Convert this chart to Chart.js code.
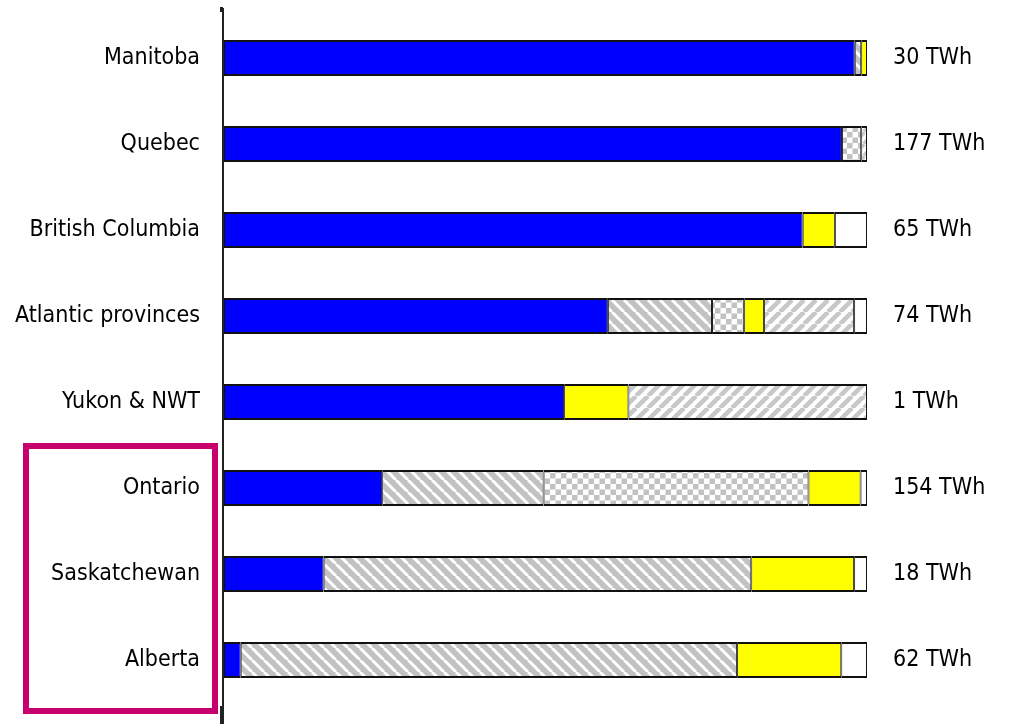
<!DOCTYPE html>
<html>
<head>
<meta charset="utf-8">
<script src="https://cdn.jsdelivr.net/npm/chart.js@4/dist/chart.umd.min.js"></script>
<style>
html,body{margin:0;padding:0;background:#fff;}
#wrap{width:1010px;height:724px;}
</style>
</head>
<body>
<div id="wrap"><canvas id="c" width="1010" height="724"></canvas></div>
<script>
// ---- data (shares of generation, %) ----
const categories = ['Manitoba','Quebec','British Columbia','Atlantic provinces','Yukon & NWT','Ontario','Saskatchewan','Alberta'];
const totals = ['30 TWh','177 TWh','65 TWh','74 TWh','1 TWh','154 TWh','18 TWh','62 TWh'];
const hydro   = [98.1, 96.1, 90.0, 59.7, 52.9, 24.6, 15.5, 2.6];
const coal    = [1.0, null, null, 16.2, null, 25.1, 66.5, 77.2];
const nuclear = [null, 3.0, null, 5.0, null, 41.2, null, null];
const renew   = [0.9, null, 5.0, 3.1, 10.0, 8.1, 16.0, 16.2];
const gasOil  = [null, 0.9, null, 14.0, 37.1, null, null, null];
const other   = [null, null, 5.0, 2.0, null, 1.0, 2.0, 4.0];

// ---- patterns ----
function hatch(bg, fg, dir, lw){
  const s = 12, c = document.createElement('canvas');
  c.width = s; c.height = s;
  const g = c.getContext('2d');
  g.fillStyle = bg; g.fillRect(0,0,s,s);
  g.strokeStyle = fg; g.lineWidth = lw;
  for (const o of [-s, 0, s]) {
    g.beginPath();
    if (dir === '\\') { g.moveTo(o, 0); g.lineTo(o + s, s); }
    else { g.moveTo(o, s); g.lineTo(o + s, 0); }
    g.stroke();
  }
  return g.createPattern(c, 'repeat');
}
function checker(a, b, sq){
  const c = document.createElement('canvas');
  c.width = sq*2; c.height = sq*2;
  const g = c.getContext('2d');
  g.fillStyle = a; g.fillRect(0,0,sq*2,sq*2);
  g.fillStyle = b; g.fillRect(0,0,sq,sq); g.fillRect(sq,sq,sq,sq);
  return g.createPattern(c, 'repeat');
}
const coalFill = hatch('#c2c2c2', '#ffffff', '\\', 3);
const gasFill = hatch('#ffffff', '#c8c8c8', '/', 4.5);
const nucFill = checker('#ffffff', '#c2c2c2', 5.5);

const FONT = "'Liberation Sans Narrow','Arial Narrow','DejaVu Sans Condensed',sans-serif";

const common = {borderColor:'#111', borderWidth:{top:2,bottom:2,left:1,right:1}, borderSkipped:false, barThickness:36, inflateAmount:0};

const decor = {
  id:'decor',
  afterDraw(chart){
    const ctx = chart.ctx, a = chart.chartArea;
    ctx.save();
    // vertical axis line extending across the whole plot
    ctx.fillStyle = '#222';
    ctx.fillRect(a.left - 2, 8, 2, 716);
    ctx.fillRect(a.left - 4, 7, 3, 5);
    ctx.fillRect(a.left - 4, 706, 2, 18);
    // highlight box
    ctx.strokeStyle = '#C8006E';
    ctx.lineWidth = 6;
    ctx.strokeRect(26, 446, 189, 265);
    ctx.restore();
  }
};

function fixY(width){
  return function(s){ s.width = width; s.paddingTop = 0; s.paddingBottom = 0; };
}

new Chart(document.getElementById('c'), {
  type:'bar',
  data:{
    labels: categories,
    datasets:[
      Object.assign({label:'Hydro', data:hydro, backgroundColor:'#0000ff'}, common),
      Object.assign({label:'Coal', data:coal, backgroundColor:coalFill}, common),
      Object.assign({label:'Nuclear', data:nuclear, backgroundColor:nucFill}, common),
      Object.assign({label:'Renewables', data:renew, backgroundColor:'#ffff00'}, common),
      Object.assign({label:'Gas & oil', data:gasOil, backgroundColor:gasFill}, common),
      Object.assign({label:'Other', data:other, backgroundColor:'#ffffff'}, common)
    ]
  },
  options:{
    indexAxis:'y',
    responsive:false,
    animation:false,
    layout:{padding:{top:15, bottom:21, left:0, right:0}},
    plugins:{legend:{display:false}, tooltip:{enabled:false}},
    scales:{
      x:{stacked:true, min:0, max:100, display:false},
      y:{
        stacked:true,
        grid:{display:false, drawTicks:false},
        border:{display:false},
        ticks:{color:'#000', padding:24, font:{family:FONT, size:23}},
        afterFit: fixY(224)
      },
      y2:{
        type:'category',
        labels: totals,
        position:'right',
        offset:true,
        grid:{display:false, drawTicks:false},
        border:{display:false},
        ticks:{color:'#000', padding:26, font:{family:FONT, size:23}},
        afterFit: fixY(143)
      }
    }
  },
  plugins:[decor]
});
</script>
</body>
</html>
